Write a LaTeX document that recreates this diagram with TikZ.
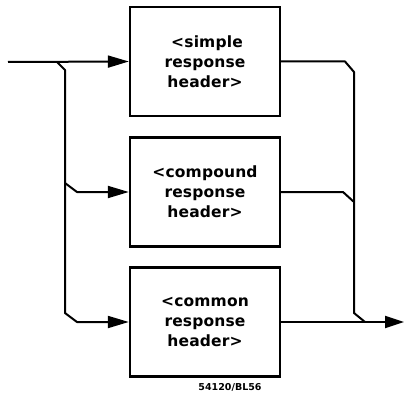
\documentclass[tikz,border=0pt]{standalone}
\usepackage{fontspec}
\newfontfamily\plotfont[LetterSpace=1]{DejaVu Sans Bold}
\newfontfamily\smallfont{DejaVu Sans Bold}
\usetikzlibrary{arrows.meta}
\begin{document}
\begin{tikzpicture}[x=1pt,y=-1pt,
  hdrbox/.style={draw,line width=2.4pt,minimum width=150pt,minimum height=109pt,
    inner sep=0pt,align=center,font=\plotfont\fontsize{15.5}{20}\selectfont},
  wire/.style={line width=2pt,line join=round},
  tip/.style={-{Triangle[length=21pt,width=12pt]}}]
\useasboundingbox (0,0) rectangle (404,396);
\node[hdrbox] (b1) at (205,61.5) {\hspace*{4pt}<simple\\response\\header>};
\node[hdrbox] (b2) at (205,192) {<compound\\response\\header>};
\node[hdrbox] (b3) at (205,322) {<common\\response\\header>};
\coordinate (start) at (8,62);
\coordinate (s1) at (57,62);
\coordinate (s2) at (65,70);
\coordinate (s3) at (65,313);
\coordinate (s4) at (77,322);
\coordinate (m1) at (65,183);
\coordinate (m2) at (77,192);
\coordinate (r1) at (345,61.5);
\coordinate (r2) at (354,72);
\coordinate (r3) at (354,313);
\coordinate (r4) at (365,322);
\coordinate (q1) at (343,192);
\coordinate (q2) at (354,202);
\coordinate (stop) at (404,322);
\draw[wire,tip] (start) -- (b1.west);
\draw[wire,tip] (s1) -- (s2) -- (s3) -- (s4) -- (b3.west);
\draw[wire,tip] (m1) -- (m2) -- (b2.west);
\draw[wire] (b1.east) -- (r1) -- (r2) -- (r3) -- (r4);
\draw[wire] (b2.east) -- (q1) -- (q2);
\draw[wire,-{Triangle[length=19pt,width=12pt]}] (b3.east) -- (stop);
\node[font=\smallfont\fontsize{9.5}{10}\selectfont,inner sep=0pt] (lbl) at (230,387.5) {54120/BL56};
\end{tikzpicture}
\end{document}
